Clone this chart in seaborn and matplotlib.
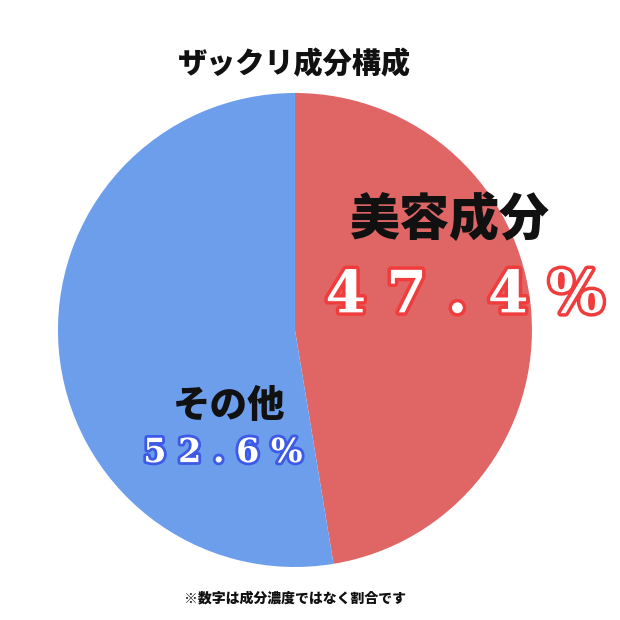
import matplotlib.pyplot as plt
import matplotlib.patheffects as pe
import seaborn as sns

labels = ["美容成分", "その他"]
values = [47.4, 52.6]
pct_text = ["4 7 . 4 %", "5 2 . 6 %"]
colors = ["#E06666", "#6D9EEB"]

sns.set_theme(style="white")
plt.rcParams['font.family'] = ['Noto Sans CJK JP', 'DejaVu Sans']

fig = plt.figure(figsize=(6.2, 6.2), dpi=100)
ax = fig.add_axes([0.0935, 0.0855, 0.7645, 0.7645])
ax.pie(values, colors=colors, startangle=90, counterclock=False,
       wedgeprops=dict(linewidth=0))
ax.set_xlim(-1, 1)
ax.set_ylim(-1, 1)
ax.set_aspect("equal")
ax.axis("off")

fig.text(0.475, 0.895, "ザックリ成分構成", ha="center", va="center",
         fontsize=21, fontweight="black", color="#111111")
fig.text(0.725, 0.645, labels[0], ha="center", va="center",
         fontsize=36, fontweight="black", color="#111111")
fig.text(0.75, 0.522, pct_text[0], ha="center", va="center",
         fontsize=42, fontweight="bold", family="DejaVu Serif", color="white",
         path_effects=[pe.Stroke(linewidth=5, foreground="#F03C3C"), pe.Normal()])
fig.text(0.37, 0.345, labels[1], ha="center", va="center",
         fontsize=27, fontweight="black", color="#111111")
fig.text(0.36, 0.27, pct_text[1], ha="center", va="center",
         fontsize=24, fontweight="bold", family="DejaVu Serif", color="white",
         path_effects=[pe.Stroke(linewidth=4, foreground="#3C5AE6"), pe.Normal()])
fig.text(0.475, 0.035, "※数字は成分濃度ではなく割合です", ha="center", va="center",
         fontsize=10, fontweight="black", color="#111111")

fig.savefig("out.png", dpi=100, facecolor="white")
